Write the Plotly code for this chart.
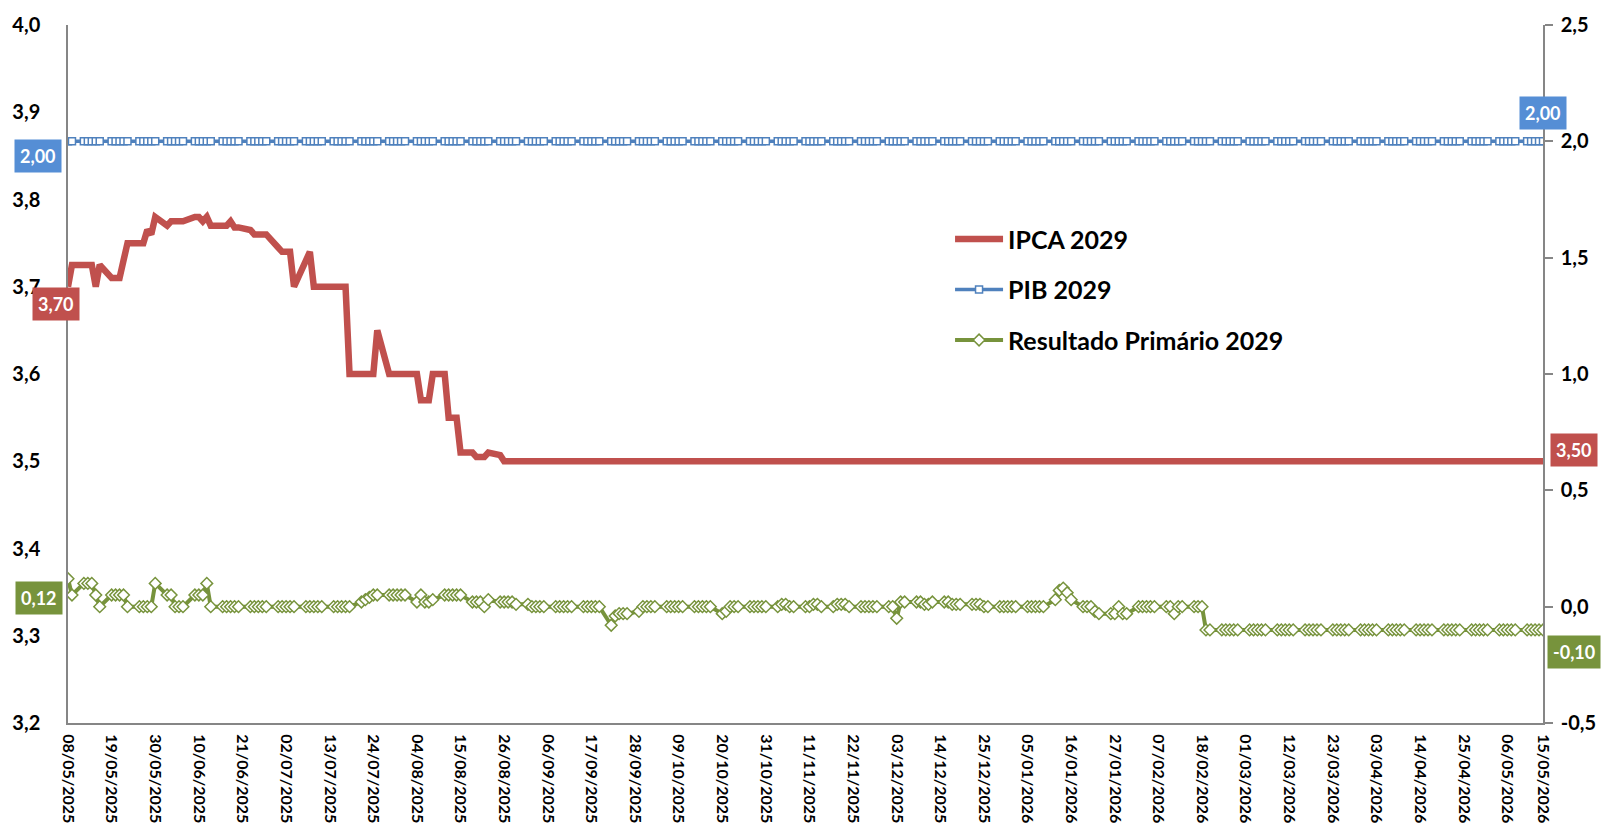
import pandas as pd
import plotly.graph_objects as go

# ---------------- data ----------------
start_date = "2025-05-08"
end_date = "2026-05-15"

tick_labels = [
    "08/05/2025", "19/05/2025", "30/05/2025", "10/06/2025", "21/06/2025", "02/07/2025",
    "13/07/2025", "24/07/2025", "04/08/2025", "15/08/2025", "26/08/2025", "06/09/2025",
    "17/09/2025", "28/09/2025", "09/10/2025", "20/10/2025", "31/10/2025", "11/11/2025",
    "22/11/2025", "03/12/2025", "14/12/2025", "25/12/2025", "05/01/2026", "16/01/2026",
    "27/01/2026", "07/02/2026", "18/02/2026", "01/03/2026", "12/03/2026", "23/03/2026",
    "03/04/2026", "14/04/2026", "25/04/2026", "06/05/2026", "15/05/2026",
]
left_ticks = [3.2, 3.3, 3.4, 3.5, 3.6, 3.7, 3.8, 3.9, 4.0]
left_tick_text = ["3,2", "3,3", "3,4", "3,5", "3,6", "3,7", "3,8", "3,9", "4,0"]
right_ticks = [-0.5, 0.0, 0.5, 1.0, 1.5, 2.0, 2.5]
right_tick_text = ["-0,5", "0,0", "0,5", "1,0", "1,5", "2,0", "2,5"]

# IPCA 2029 (left axis), one row per week (Mon..Fri)
ipca_weeks = [
    [3.70, 3.725],                          # 08-09/05
    [3.725, 3.725, 3.725, 3.70, 3.725],     # 12-16/05
    [3.71, 3.71, 3.71, 3.73, 3.75],         # 19-23/05
    [3.75, 3.75, 3.765, 3.76, 3.78],        # 26-30/05
    [3.77, 3.775, 3.775, 3.775, 3.775],     # 02-06/06
    [3.78, 3.78, 3.775, 3.78, 3.77],        # 09-13/06
    [3.77, 3.77, 3.775, 3.768, 3.768],      # 16-20/06
    [3.765, 3.76, 3.76, 3.76, 3.76],        # 23-27/06
    [3.745, 3.74, 3.74, 3.74, 3.70],        # 30/06-04/07
    [3.73, 3.74, 3.70, 3.70, 3.70],         # 07-11/07
    [3.70, 3.70, 3.70, 3.70, 3.60],         # 14-18/07
    [3.60, 3.60, 3.60, 3.60, 3.65],         # 21-25/07
    [3.60, 3.60, 3.60, 3.60, 3.60],         # 28/07-01/08
    [3.60, 3.57, 3.57, 3.57, 3.60],         # 04-08/08
    [3.60, 3.55, 3.55, 3.55, 3.51],         # 11-15/08
    [3.51, 3.505, 3.505, 3.505, 3.51],      # 18-22/08
    [3.507, 3.50, 3.50, 3.50, 3.50],        # 25-29/08
    [3.50, 3.50, 3.50, 3.50, 3.50],         # 01-05/09
    [3.50, 3.50, 3.50, 3.50, 3.50],         # 08-12/09
    [3.50, 3.50, 3.50, 3.50, 3.50],         # 15-19/09
    [3.50, 3.50, 3.50, 3.50, 3.50],         # 22-26/09
    [3.50, 3.50, 3.50, 3.50, 3.50],         # 29/09-03/10
    [3.50, 3.50, 3.50, 3.50, 3.50],         # 06-10/10
    [3.50, 3.50, 3.50, 3.50, 3.50],         # 13-17/10
    [3.50, 3.50, 3.50, 3.50, 3.50],         # 20-24/10
    [3.50, 3.50, 3.50, 3.50, 3.50],         # 27-31/10
    [3.50, 3.50, 3.50, 3.50, 3.50],         # 03-07/11
    [3.50, 3.50, 3.50, 3.50, 3.50],         # 10-14/11
    [3.50, 3.50, 3.50, 3.50, 3.50],         # 17-21/11
    [3.50, 3.50, 3.50, 3.50, 3.50],         # 24-28/11
    [3.50, 3.50, 3.50, 3.50, 3.50],         # 01-05/12
    [3.50, 3.50, 3.50, 3.50, 3.50],         # 08-12/12
    [3.50, 3.50, 3.50, 3.50, 3.50],         # 15-19/12
    [3.50, 3.50, 3.50, 3.50, 3.50],         # 22-26/12
    [3.50, 3.50, 3.50, 3.50, 3.50],         # 29/12-02/01
    [3.50, 3.50, 3.50, 3.50, 3.50],         # 05-09/01
    [3.50, 3.50, 3.50, 3.50, 3.50],         # 12-16/01
    [3.50, 3.50, 3.50, 3.50, 3.50],         # 19-23/01
    [3.50, 3.50, 3.50, 3.50, 3.50],         # 26-30/01
    [3.50, 3.50, 3.50, 3.50, 3.50],         # 02-06/02
    [3.50, 3.50, 3.50, 3.50, 3.50],         # 09-13/02
    [3.50, 3.50, 3.50, 3.50, 3.50],         # 16-20/02
    [3.50, 3.50, 3.50, 3.50, 3.50],         # 23-27/02
    [3.50, 3.50, 3.50, 3.50, 3.50],         # 02-06/03
    [3.50, 3.50, 3.50, 3.50, 3.50],         # 09-13/03
    [3.50, 3.50, 3.50, 3.50, 3.50],         # 16-20/03
    [3.50, 3.50, 3.50, 3.50, 3.50],         # 23-27/03
    [3.50, 3.50, 3.50, 3.50, 3.50],         # 30/03-03/04
    [3.50, 3.50, 3.50, 3.50, 3.50],         # 06-10/04
    [3.50, 3.50, 3.50, 3.50, 3.50],         # 13-17/04
    [3.50, 3.50, 3.50, 3.50, 3.50],         # 20-24/04
    [3.50, 3.50, 3.50, 3.50, 3.50],         # 27/04-01/05
    [3.50, 3.50, 3.50, 3.50, 3.50],         # 04-08/05
    [3.50, 3.50, 3.50, 3.50, 3.50],         # 11-15/05
]

# Resultado Primário 2029 (right axis)
primario_weeks = [
    [0.12, 0.05],                           # 08-09/05
    [0.10, 0.10, 0.10, 0.05, 0.00],         # 12-16/05
    [0.05, 0.05, 0.05, 0.05, 0.00],         # 19-23/05
    [0.00, 0.00, 0.00, 0.00, 0.10],         # 26-30/05
    [0.05, 0.05, 0.00, 0.00, 0.00],         # 02-06/06
    [0.05, 0.05, 0.05, 0.10, 0.00],         # 09-13/06
    [0.00, 0.00, 0.00, 0.00, 0.00],         # 16-20/06
    [0.00, 0.00, 0.00, 0.00, 0.00],         # 23-27/06
    [0.00, 0.00, 0.00, 0.00, 0.00],         # 30/06-04/07
    [0.00, 0.00, 0.00, 0.00, 0.00],         # 07-11/07
    [0.00, 0.00, 0.00, 0.00, 0.00],         # 14-18/07
    [0.02, 0.03, 0.04, 0.05, 0.05],         # 21-25/07
    [0.05, 0.05, 0.05, 0.05, 0.05],         # 28/07-01/08
    [0.02, 0.05, 0.02, 0.02, 0.03],         # 04-08/08
    [0.05, 0.05, 0.05, 0.05, 0.05],         # 11-15/08
    [0.02, 0.02, 0.02, 0.00, 0.03],         # 18-22/08
    [0.02, 0.02, 0.02, 0.02, 0.01],         # 25-29/08
    [0.01, 0.00, 0.00, 0.00, 0.00],         # 01-05/09
    [0.00, 0.00, 0.00, 0.00, 0.00],         # 08-12/09
    [0.00, 0.00, 0.00, 0.00, 0.00],         # 15-19/09
    [-0.08, -0.04, -0.03, -0.03, -0.03],    # 22-26/09
    [-0.02, 0.00, 0.00, 0.00, 0.00],        # 29/09-03/10
    [0.00, 0.00, 0.00, 0.00, 0.00],         # 06-10/10
    [0.00, 0.00, 0.00, 0.00, 0.00],         # 13-17/10
    [-0.03, -0.02, 0.00, 0.00, 0.00],       # 20-24/10
    [0.00, 0.00, 0.00, 0.00, 0.00],         # 27-31/10
    [0.00, 0.01, 0.01, 0.00, 0.00],         # 03-07/11
    [0.00, 0.00, 0.01, 0.01, 0.00],         # 10-14/11
    [0.00, 0.01, 0.01, 0.01, 0.00],         # 17-21/11
    [0.00, 0.00, 0.00, 0.00, 0.00],         # 24-28/11
    [0.00, 0.00, -0.05, 0.02, 0.02],        # 01-05/12
    [0.02, 0.02, 0.01, 0.01, 0.02],         # 08-12/12
    [0.02, 0.02, 0.01, 0.01, 0.01],         # 15-19/12
    [0.01, 0.01, 0.01, 0.00, 0.00],         # 22-26/12
    [0.00, 0.00, 0.00, 0.00, 0.00],         # 29/12-02/01
    [0.00, 0.00, 0.00, 0.00, 0.00],         # 05-09/01
    [0.03, 0.07, 0.08, 0.06, 0.03],         # 12-16/01
    [0.00, 0.00, 0.00, -0.02, -0.03],       # 19-23/01
    [-0.03, -0.03, 0.00, -0.03, -0.03],     # 26-30/01
    [0.00, 0.00, 0.00, 0.00, 0.00],         # 02-06/02
    [0.00, 0.00, -0.03, 0.00, 0.00],        # 09-13/02
    [0.00, 0.00, 0.00, -0.10, -0.10],       # 16-20/02
    [-0.10, -0.10, -0.10, -0.10, -0.10],    # 23-27/02
    [-0.10, -0.10, -0.10, -0.10, -0.10],    # 02-06/03
    [-0.10, -0.10, -0.10, -0.10, -0.10],    # 09-13/03
    [-0.10, -0.10, -0.10, -0.10, -0.10],    # 16-20/03
    [-0.10, -0.10, -0.10, -0.10, -0.10],    # 23-27/03
    [-0.10, -0.10, -0.10, -0.10, -0.10],    # 30/03-03/04
    [-0.10, -0.10, -0.10, -0.10, -0.10],    # 06-10/04
    [-0.10, -0.10, -0.10, -0.10, -0.10],    # 13-17/04
    [-0.10, -0.10, -0.10, -0.10, -0.10],    # 20-24/04
    [-0.10, -0.10, -0.10, -0.10, -0.10],    # 27/04-01/05
    [-0.10, -0.10, -0.10, -0.10, -0.10],    # 04-08/05
    [-0.10, -0.10, -0.10, -0.10, -0.10],    # 11-15/05
]

pib_value = 2.00  # PIB 2029 (right axis), unchanged over the whole period

# ---------------- build ----------------
dates = pd.bdate_range(start_date, end_date)
ipca = [v for wk in ipca_weeks for v in wk]
primario = [v for wk in primario_weeks for v in wk]
pib = [pib_value] * len(dates)
assert len(ipca) == len(dates) == len(primario)

tick_vals = pd.to_datetime(tick_labels, format="%d/%m/%Y")

RED = "#C0504D"
BLUE = "#4F81BD"
BLUE_LBL = "#558ED5"
GREEN = "#77933C"
AXIS = "#868686"
FONT = "Lato"

fig = go.Figure()
fig.add_trace(go.Scatter(
    x=dates, y=ipca, name="IPCA 2029", mode="lines", yaxis="y",
    line=dict(color=RED, width=6.5), legendgroup="a",
))
fig.add_trace(go.Scatter(
    x=dates, y=pib, name="PIB 2029", mode="lines+markers", yaxis="y2",
    line=dict(color=BLUE, width=3.5),
    marker=dict(symbol="square", size=7, color="white", line=dict(color=BLUE, width=1.5)),
    legendgroup="b",
))
fig.add_trace(go.Scatter(
    x=dates, y=primario, name="Resultado Primário 2029", mode="lines+markers", yaxis="y2",
    line=dict(color=GREEN, width=4),
    marker=dict(symbol="diamond", size=9, color="white", line=dict(color=GREEN, width=1.5)),
    legendgroup="c",
))


def fmt(v):
    return f"{v:.2f}".replace(".", ",")


lbl_font = dict(family=FONT, size=18, color="white", weight="bold")
labels = [
    (dates[0], ipca[0], "y", RED, -12, -17),
    (dates[-1], ipca[-1], "y", RED, 31, 11),
    (dates[0], pib[0], "y2", BLUE_LBL, -30, -15),
    (dates[-1], pib[-1], "y2", BLUE_LBL, 0, 28),
    (dates[0], primario[0], "y2", GREEN, -29, -19),
    (dates[-1], primario[-1], "y2", GREEN, 31, -22),
]
for x, y, yref, col, dx, dy in labels:
    fig.add_annotation(
        x=x, y=y, xref="x", yref=yref, text=fmt(y), showarrow=False,
        xshift=dx, yshift=dy, bgcolor=col, borderpad=5, font=lbl_font,
    )

fig.update_layout(
    width=1608, height=835,
    margin=dict(l=68, r=65, t=23, b=109),
    paper_bgcolor="white", plot_bgcolor="white",
    font=dict(family=FONT, color="black"),
    showlegend=True,
    legend=dict(
        x=0.598, y=0.726, xanchor="left", yanchor="top",
        font=dict(family=FONT, size=25, color="black", weight="bold"),
        bgcolor="rgba(0,0,0,0)", traceorder="grouped", tracegroupgap=15,
        itemwidth=48,
    ),
    xaxis=dict(
        type="date", range=[dates[0], dates[-1]],
        tickmode="array", tickvals=tick_vals, ticktext=tick_labels,
        tickangle=90, tickfont=dict(family=FONT, size=16, color="black", weight="bold"),
        showline=True, linecolor=AXIS, linewidth=2, showgrid=False, zeroline=False,
        ticks="", ticklabelstandoff=6,
    ),
    yaxis=dict(
        range=[3.2, 4.0], tickmode="array", tickvals=left_ticks, ticktext=left_tick_text,
        tickfont=dict(family=FONT, size=20, color="black", weight="bold"),
        showline=True, linecolor=AXIS, linewidth=1.5, showgrid=False, zeroline=False,
        ticks="", ticklabelstandoff=22,
    ),
    yaxis2=dict(
        range=[-0.5, 2.5], tickmode="array", tickvals=right_ticks, ticktext=right_tick_text,
        overlaying="y", side="right",
        tickfont=dict(family=FONT, size=20, color="black", weight="bold"),
        showline=True, linecolor=AXIS, linewidth=1.5, showgrid=False, zeroline=False,
        ticks="outside", ticklen=8, tickcolor=AXIS, tickwidth=1.5, ticklabelstandoff=4,
    ),
)

fig.write_html("out.html", config={"displayModeBar": False},
               post_script="document.body.style.margin='0';")
